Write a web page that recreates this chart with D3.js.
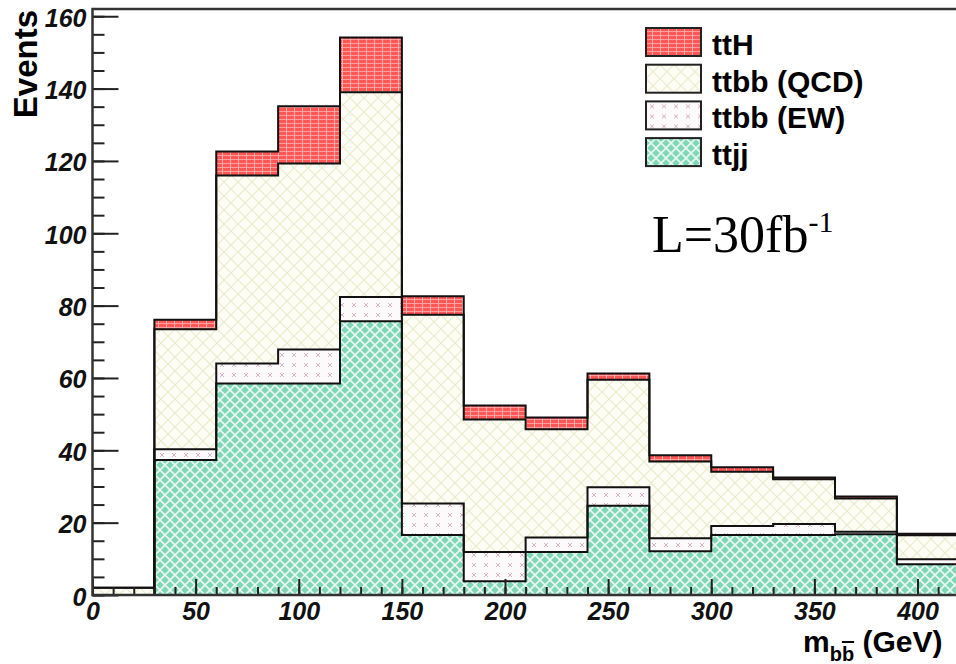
<!DOCTYPE html>
<html>
<head>
<meta charset="utf-8">
<script src="https://cdn.jsdelivr.net/npm/d3@7"></script>
<style>
  body { margin: 0; background: #fff; }
</style>
</head>
<body>
<div id="chart"></div>
<script>
// Data (bins of 30 GeV)
const binEdges = [0, 30, 60, 90, 120, 150, 180, 210, 240, 270, 300, 330, 360, 390, 420];
const ttjj    = [0.0, 37.3, 58.5, 58.5, 75.7, 16.6, 3.8, 11.9, 24.7, 12.1, 16.6, 16.6, 16.8, 8.5];
const ttbbEW  = [0.0, 3.0, 5.5, 9.4, 6.7, 8.7, 8.1, 4.0, 5.1, 3.6, 2.5, 3.0, 0.7, 1.4];
const ttbbQCD = [2.0, 33.2, 52.0, 51.4, 56.6, 52.2, 36.6, 29.9, 29.7, 21.2, 15.0, 12.4, 9.2, 6.6];
const ttH     = [0.0, 2.6, 6.6, 15.8, 15.1, 5.1, 3.9, 3.3, 1.7, 1.7, 1.2, 0.5, 0.5, 0.4];

const legendNames = ["ttH", "ttbb (QCD)", "ttbb (EW)", "ttjj"];
const yMajor = [0, 20, 40, 60, 80, 100, 120, 140, 160];
const xMajor = [0, 50, 100, 150, 200, 250, 300, 350, 400];

const W = 956, H = 664;
const x = d3.scaleLinear().domain([0, 420]).range([92.5, 958.75]);
const y = d3.scaleLinear().domain([0, 162]).range([595, 9]);

const svg = d3.select("#chart").append("svg")
    .attr("width", W)
    .attr("height", H);

// fill patterns, roughly like the ROOT styles
const defs = svg.append("defs");

let p = defs.append("pattern").attr("id", "pH").attr("patternUnits", "userSpaceOnUse")
    .attr("width", 8).attr("height", 4);
p.append("rect").attr("width", 8).attr("height", 4).attr("fill", "#ff5656");
p.append("rect").attr("y", 3).attr("width", 8).attr("height", 1).attr("fill", "#ff9c9c");
p.append("rect").attr("x", 6).attr("width", 1).attr("height", 4).attr("fill", "#ffb0b0");

p = defs.append("pattern").attr("id", "pQCD").attr("patternUnits", "userSpaceOnUse")
    .attr("width", 14).attr("height", 14);
p.append("rect").attr("width", 14).attr("height", 14).attr("fill", "#fdfdf6");
p.append("path").attr("d", "M0,0L14,14M14,0L0,14").attr("stroke", "#ebebcc").attr("stroke-width", 1.2);

p = defs.append("pattern").attr("id", "pEW").attr("patternUnits", "userSpaceOnUse")
    .attr("width", 12).attr("height", 10);
p.append("rect").attr("width", 12).attr("height", 10).attr("fill", "#fdfafb");
p.append("path").attr("d", "M4,3L8,7M8,3L4,7").attr("stroke", "#d8b4c2").attr("stroke-width", 1);

p = defs.append("pattern").attr("id", "pJJ").attr("patternUnits", "userSpaceOnUse")
    .attr("width", 10).attr("height", 10);
p.append("rect").attr("width", 10).attr("height", 10).attr("fill", "#80d7b7");
p.append("path").attr("d", "M0,0L10,10M10,0L0,10").attr("stroke", "#eaf9f2").attr("stroke-width", 1.6);

// cumulative stack
const cum1 = ttjj.slice();
const cum2 = cum1.map((v, i) => v + ttbbEW[i]);
const cum3 = cum2.map((v, i) => v + ttbbQCD[i]);
const cum4 = cum3.map((v, i) => v + ttH[i]);

function steps(vals) {
    const pts = vals.map((v, i) => ({ e: binEdges[i], v: v }));
    pts.push({ e: binEdges[vals.length], v: vals[vals.length - 1] });
    return pts;
}

const area = d3.area().curve(d3.curveStepAfter)
    .x(d => x(d.e)).y0(y(0)).y1(d => y(d.v));
const line = d3.line().curve(d3.curveStepAfter)
    .x(d => x(d.e)).y(d => y(d.v));

const layers = [
    { vals: cum4, fill: "url(#pH)" },
    { vals: cum3, fill: "url(#pQCD)" },
    { vals: cum2, fill: "url(#pEW)" },
    { vals: cum1, fill: "url(#pJJ)" }
];

const plot = svg.append("g");
layers.forEach(l => {
    plot.append("path").datum(steps(l.vals))
        .attr("fill", l.fill)
        .attr("d", area);
});
layers.forEach(l => {
    plot.append("path").datum(steps(l.vals))
        .attr("fill", "none")
        .attr("stroke", "#111")
        .attr("stroke-width", 2)
        .attr("d", line);
});

// axes: ticks inside the frame
const minorY = d3.range(0, 161, 5);
const minorX = d3.range(0, 421, 10);

svg.append("g").attr("transform", `translate(${x(0)},0)`)
    .call(d3.axisRight(y).tickValues(minorY).tickSize(12).tickFormat(""));
svg.append("g").attr("transform", `translate(${x(0)},0)`)
    .call(d3.axisRight(y).tickValues(yMajor).tickSize(26).tickFormat(""));
const yLab = svg.append("g").attr("transform", `translate(${x(0)},0)`)
    .call(d3.axisLeft(y).tickValues(yMajor).tickSize(0).tickPadding(6));
yLab.selectAll("text").attr("dy", "0.4em");

svg.append("g").attr("transform", `translate(0,${y(0)})`)
    .call(d3.axisTop(x).tickValues(minorX).tickSize(8).tickFormat(""));
svg.append("g").attr("transform", `translate(0,${y(0)})`)
    .call(d3.axisTop(x).tickValues(xMajor).tickSize(16).tickFormat(""));
const xLab = svg.append("g").attr("transform", `translate(0,${y(0)})`)
    .call(d3.axisBottom(x).tickValues(xMajor).tickSize(0).tickPadding(7));
xLab.selectAll("text").attr("dy", "0.72em");

[yLab, xLab].forEach(g => g.selectAll("text")
    .attr("fill", "#111")
    .style("font-family", "'Liberation Sans', Arial, sans-serif")
    .style("font-weight", "bold")
    .style("font-style", "italic")
    .style("font-size", "25px"));

svg.selectAll(".domain").remove();
svg.selectAll(".tick line").attr("stroke", "#222").attr("stroke-width", 2);

// frame
svg.append("rect")
    .attr("x", x(0)).attr("y", y(162))
    .attr("width", x(420) - x(0)).attr("height", y(0) - y(162))
    .attr("fill", "none").attr("stroke", "#333").attr("stroke-width", 2.5);

// axis titles
svg.append("text")
    .attr("transform", "translate(37,10) rotate(-90)")
    .attr("text-anchor", "end")
    .style("font-family", "'Liberation Sans', Arial, sans-serif")
    .style("font-weight", "bold").style("font-size", "33px")
    .text("Events");

const xt = svg.append("text")
    .attr("x", 803).attr("y", 652)
    .style("font-family", "'Liberation Sans', Arial, sans-serif")
    .style("font-weight", "bold").style("font-size", "30px");
xt.append("tspan").text("m");
xt.append("tspan").attr("dy", 9).style("font-size", "20px").text("b");
xt.append("tspan").style("font-size", "20px").style("text-decoration", "overline").text("b");
xt.append("tspan").attr("dy", -9).text(" (GeV)");

// legend
const legendFills = ["url(#pH)", "url(#pQCD)", "url(#pEW)", "url(#pJJ)"];
const leg = svg.append("g").attr("transform", "translate(646,28)");
legendNames.forEach((name, i) => {
    const g = leg.append("g").attr("transform", `translate(0,${i * 36.7})`);
    g.append("rect").attr("width", 55).attr("height", 28)
        .attr("fill", legendFills[i]).attr("stroke", "#222").attr("stroke-width", 2);
    g.append("text").attr("x", 66).attr("y", 27)
        .style("font-family", "'Liberation Sans', Arial, sans-serif")
        .style("font-weight", "bold").style("font-size", "30px")
        .text(name);
});

// luminosity
const lt = svg.append("text")
    .attr("x", 652).attr("y", 252)
    .style("font-family", "'Liberation Serif', 'Times New Roman', serif")
    .style("font-size", "52px");
lt.append("tspan").text("L=30fb");
lt.append("tspan").attr("dy", -20).style("font-size", "30px").text("-1");
</script>
</body>
</html>
